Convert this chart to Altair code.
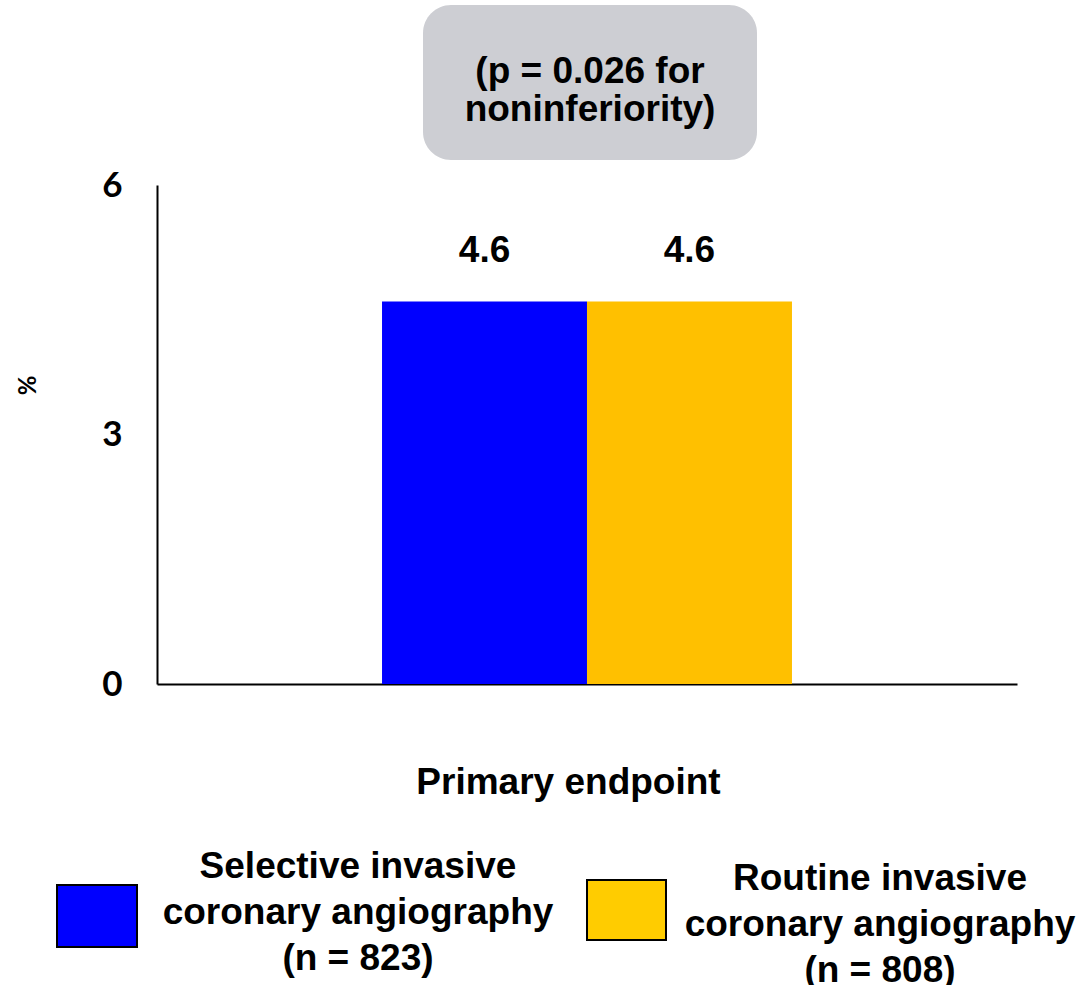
import altair as alt
import pandas as pd

# ---- data ----
endpoint = ["Primary endpoint", "Primary endpoint"]
groups = ["Selective invasive coronary angiography (n = 823)",
          "Routine invasive coronary angiography (n = 808)"]
values = [4.6, 4.6]
value_labels = ["4.6", "4.6"]
bar_colors = ["#0000FF", "#FFC000"]
legend_colors = ["#0000FF", "#FFCC00"]
legend_lines = [
    ["Selective invasive", "coronary angiography", "(n = 823)"],
    ["Routine invasive", "coronary angiography", "(n = 808)"],
]
p_text = ["(p = 0.026 for", "noninferiority)"]
y_ticks = [0, 3, 6]

ARIAL = "Liberation Sans, Arial, sans-serif"
CAL = "Lato, Open Sans, sans-serif"

df = pd.DataFrame({"endpoint": endpoint, "group": groups,
                   "value": values, "label": value_labels})

x_enc = alt.X("endpoint:N",
              scale=alt.Scale(paddingInner=0, paddingOuter=0.549),
              axis=alt.Axis(title="Primary endpoint", labels=False, ticks=False,
                            domainColor="black", domainWidth=2,
                            titleFont=ARIAL, titleFontSize=37, titleFontWeight="bold",
                            titleColor="black", titleX=411, titleY=98,
                            titleBaseline="middle", titleAlign="center"))
xoff = alt.XOffset("group:N", sort=groups, scale=alt.Scale(paddingInner=0, paddingOuter=0))
y_enc = alt.Y("value:Q",
              scale=alt.Scale(domain=[0, 6], nice=False),
              axis=alt.Axis(title="%", values=y_ticks, format="d", ticks=False, grid=False,
                            domainColor="black", domainWidth=2,
                            labelFont=CAL, labelFontSize=35, labelFontWeight="bold",
                            labelColor="black", labelPadding=35,
                            titleFont=CAL, titleFontSize=24, titleFontWeight="bold",
                            titleColor="black", titleX=-129, titleY=200,
                            titleBaseline="middle", titleAngle=-90))

color_enc = alt.Color("group:N", sort=groups,
                      scale=alt.Scale(domain=groups, range=bar_colors), legend=None)

bars = alt.Chart(df).mark_bar(size=205).encode(x=x_enc, xOffset=xoff, y=y_enc, color=color_enc)

labels = alt.Chart(df).mark_text(font=ARIAL, fontSize=37, fontWeight="bold",
                                 baseline="middle", dy=-50, color="black").encode(
    x=alt.X("endpoint:N"), xOffset=alt.XOffset("group:N", sort=groups), y="value:Q", text="label:N")

# p-value box
pdf = pd.DataFrame({"t": ["\n".join(p_text)]})
box = alt.Chart(pdf).mark_rect(color="#CDCED3", cornerRadius=28).encode(
    x=alt.value(266), x2=alt.value(600), y=alt.value(-180), y2=alt.value(-25))
box_text = alt.Chart(pdf).mark_text(font=ARIAL, fontSize=37, fontWeight="bold",
                                    lineBreak="\n", lineHeight=38, baseline="middle",
                                    align="center", color="black").encode(
    x=alt.value(433), y=alt.value(-113), text="t:N")

# manual legend
ldf = pd.DataFrame({"group": groups, "t": ["\n".join(l) for l in legend_lines]})
leg_layers = []
sym_pos = [(-100, -20, 700, 762), (430, 509, 695, 755)]
txt_pos = [(201, 682), (723, 694)]
for i, g in enumerate(groups):
    x1, x2, y1, y2 = sym_pos[i]
    leg_layers.append(
        alt.Chart(ldf).transform_filter(alt.datum.group == g).mark_rect(
            color=legend_colors[i], stroke="black", strokeWidth=2).encode(
            x=alt.value(x1), x2=alt.value(x2), y=alt.value(y1), y2=alt.value(y2)))
    tx, ty = txt_pos[i]
    leg_layers.append(
        alt.Chart(ldf).transform_filter(alt.datum.group == g).mark_text(
            font=ARIAL, fontSize=37, fontWeight="bold", lineBreak="\n", lineHeight=46,
            baseline="middle", align="center", color="black").encode(
            x=alt.value(tx), y=alt.value(ty), text="t:N"))

chart = alt.layer(bars, labels, box, box_text, *leg_layers).properties(
    width=860, height=499,
    autosize=alt.AutoSizeParams(type="none"),
    padding={"left": 157, "top": 185, "right": 65, "bottom": 301},
    background="white",
).configure_view(stroke=None)

chart.save("out.html", embed_options={"renderer": "svg", "actions": False})
